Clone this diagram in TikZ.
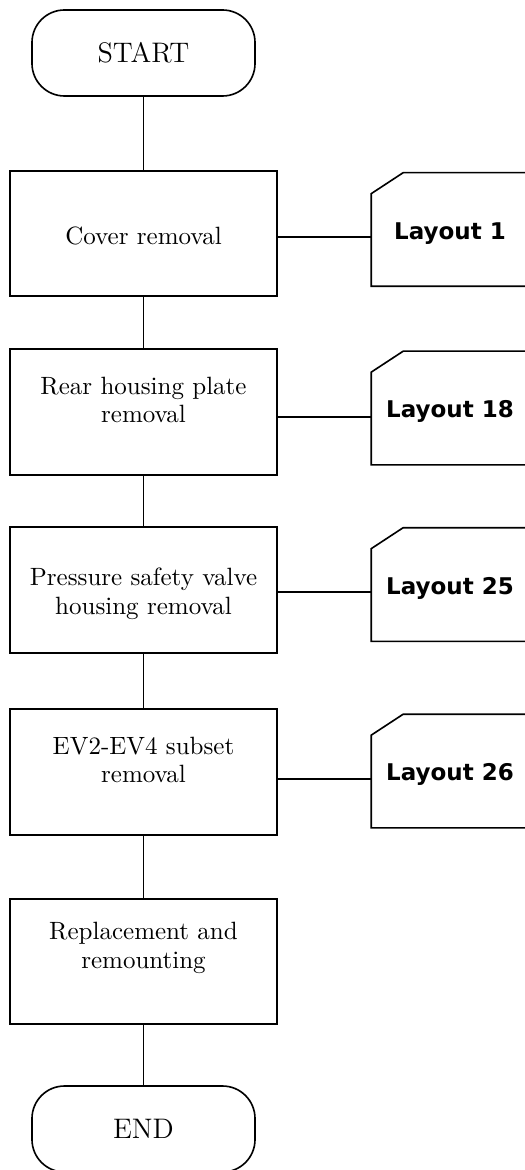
\documentclass[tikz,border=0pt]{standalone}
\usepackage{fontspec}
\usepackage{tikz}
\usetikzlibrary{positioning,calc}
\newfontfamily\layoutfont{DejaVu Sans}

\begin{document}
\begin{tikzpicture}[x=0.4pt, y=-0.4pt, line width=0.65pt,
    terminal/.style={draw, rounded corners=13pt, minimum width=89.2pt, minimum height=34.4pt, font=\fontsize{11.3}{13}\selectfont},
    procbox/.style={draw, minimum width=106.8pt, minimum height=50.2pt},
    proctext/.style={align=center, font=\fontsize{10}{11.4}\selectfont},
    layoutcard/.style={minimum width=62.4pt, minimum height=44.8pt, inner sep=0pt, text height=10pt, text depth=2.2pt,
        font=\layoutfont\bfseries\fontsize{9.2}{11}\selectfont}]
    \useasboundingbox (0,0) rectangle (525,1170);

    % Terminals
    \node[terminal] (start) at (143.5,53) {START};
    \node[terminal] (end) at (143.5,1129) {END};

    % Process steps
    \node[procbox] (cover) at (143.5,233.5) {};
    \node[proctext] at (143.5,236) {Cover removal};
    \node[procbox] (rear) at (143.5,412) {};
    \node[proctext] at (143.5,400) {Rear housing plate\\removal};
    \node[procbox] (valve) at (143.5,590) {};
    \node[proctext] at (143.5,594) {Pressure safety valve\\housing removal};
    \node[procbox] (subset) at (143.5,772) {};
    \node[proctext] at (143.5,760) {EV2-EV4 subset\\removal};
    \node[procbox] (remount) at (143.5,961.5) {};
    \node[proctext] at (143.5,948) {Replacement and\\remounting};

    % Layout references (cut corner drawn by hand)
    \node[layoutcard] (lay1) at (450,229.5) {Layout 1};
    \node[layoutcard] (lay18) at (450,408) {Layout 18};
    \node[layoutcard] (lay25) at (450,584.5) {Layout 25};
    \node[layoutcard] (lay26) at (450,771) {Layout 26};
    \foreach \l in {lay1, lay18, lay25, lay26}
        \draw (\l.south east) -- (\l.south west) -- ([yshift=-8.4pt]\l.north west)
            -- ([xshift=12.8pt]\l.north west) -- (\l.north east);

    % Main flow
    \foreach \a/\b in {start/cover, cover/rear, rear/valve, valve/subset, subset/remount, remount/end}
        \draw (\a) -- (\b);

    % Links to layouts
    \foreach \b/\l/\y in {cover/lay1/237, rear/lay18/417, valve/lay25/592, subset/lay26/779}
        \draw (\b.east |- 0,\y) -- (\l.west |- 0,\y);
\end{tikzpicture}
\end{document}
